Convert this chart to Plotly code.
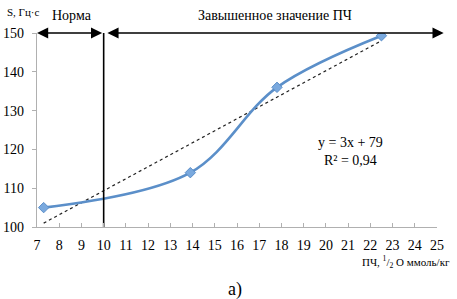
import plotly.graph_objects as go

# data
pch = [7.3, 13.9, 17.8, 22.5]
s_vals = [105, 114, 136, 149.3]
trend_x = [7.3, 22.5]
trend_y = [101, 148]
x_ticks = list(range(7, 26))
y_ticks = [100, 110, 120, 130, 140, 150]
border_x = 10

SERIF = "Liberation Serif"

fig = go.Figure()
fig.add_trace(go.Scatter(
    x=trend_x, y=trend_y, mode="lines",
    line=dict(color="#222222", width=1.2, dash="3px,3px"),
    hoverinfo="skip", showlegend=False))
fig.add_trace(go.Scatter(
    x=pch, y=s_vals, mode="lines+markers",
    line=dict(color="#5b8fc9", width=2.6, shape="spline", smoothing=1.0),
    marker=dict(symbol="diamond", size=8, color="#7aa9de",
                line=dict(color="#5b8fc9", width=1)),
    showlegend=False))
# vertical border line
fig.add_trace(go.Scatter(
    x=[border_x, border_x], y=[y_ticks[0], y_ticks[-1]], mode="lines",
    line=dict(color="black", width=1.6), showlegend=False, hoverinfo="skip"))

fig.update_layout(
    width=457, height=299,
    margin=dict(l=37, r=20, t=33, b=72),
    paper_bgcolor="white", plot_bgcolor="white",
    font=dict(family=SERIF, size=13, color="black"),
    xaxis=dict(range=[7, 25], tickvals=x_ticks, showgrid=False, zeroline=False,
               showline=True, linecolor="#b0b0b0", linewidth=1.2,
               ticks="inside", ticklen=4, tickcolor="#b0b0b0",
               ticklabelstandoff=5, automargin=False,
               tickfont=dict(family=SERIF, size=14)),
    yaxis=dict(range=[100, 150], tickvals=y_ticks, showgrid=False, zeroline=False,
               showline=True, linecolor="#b0b0b0", linewidth=1.2,
               ticks="outside", ticklen=4, tickcolor="#b0b0b0",
               ticklabelstandoff=5, automargin=False,
               tickfont=dict(family=SERIF, size=14)),
    showlegend=False,
)

ann = []
# double arrow: Норма
ann.append(dict(x=7, y=150, ax=border_x, ay=150, xref="x", yref="y",
                axref="x", ayref="y", showarrow=True, arrowhead=2,
                arrowside="end+start", arrowsize=1.4, arrowwidth=1.6,
                arrowcolor="black", text=""))
# arrow: elevated value
ann.append(dict(x=25.3, y=150, ax=border_x + 0.1, ay=150, xref="x", yref="y",
                axref="x", ayref="y", showarrow=True, arrowhead=2,
                arrowside="end+start", arrowsize=1.4, arrowwidth=1.6,
                arrowcolor="black", text=""))
ann.append(dict(x=0.088, y=1.0, xref="paper", yref="paper", yshift=18,
                text="Норма", showarrow=False, font=dict(size=14, family=SERIF),
                xanchor="center", yanchor="middle"))
ann.append(dict(x=0.595, y=1.0, xref="paper", yref="paper", yshift=18,
                text="Завышенное значение ПЧ", showarrow=False,
                font=dict(size=14, family=SERIF), xanchor="center", yanchor="middle"))
ann.append(dict(x=-0.08, y=1.0, xref="paper", yref="paper", yshift=21,
                text="S, Гц·с", showarrow=False, font=dict(size=11, family=SERIF),
                xanchor="left", yanchor="middle"))
ann.append(dict(x=21.1, y=119.4, xref="x", yref="y",
                text="y = 3x + 79<br>R² = 0,94", showarrow=False,
                font=dict(size=14, family=SERIF), align="center",
                xanchor="center", yanchor="middle"))
ann.append(dict(x=1.0375, y=0, xref="paper", yref="paper", yshift=-35,
                text="ПЧ, <sup>1</sup>/<sub>2</sub> O ммоль/кг", showarrow=False,
                font=dict(size=11, family=SERIF), xanchor="right", yanchor="middle"))
ann.append(dict(x=0.5, y=0, xref="paper", yref="paper", xshift=-2, yshift=-62,
                text="а)", showarrow=False, font=dict(size=18, family=SERIF),
                xanchor="center", yanchor="middle"))
fig.update_layout(annotations=ann)

fig.write_html("out.html", config={"displayModeBar": False},
               post_script="document.body.style.margin='0';")
